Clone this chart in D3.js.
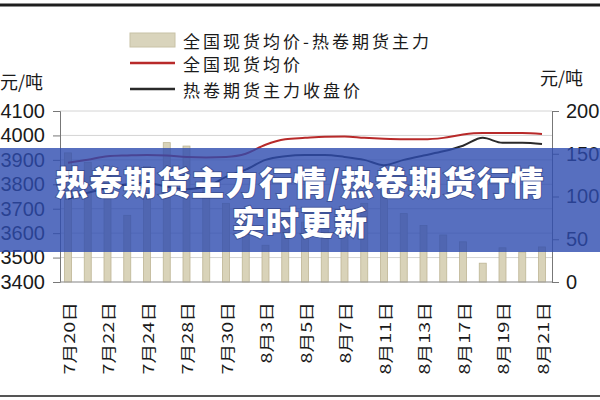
<!DOCTYPE html>
<html><head><meta charset="utf-8">
<script src="https://cdn.jsdelivr.net/npm/d3@7"></script>
<style>
body{margin:0;background:#fff;}
svg{display:block;font-family:"Liberation Sans","Noto Sans CJK SC",sans-serif;}
</style></head>
<body><svg id="c" width="600" height="400"></svg>
<script>
const dates = ["7月20日","7月21日","7月22日","7月23日","7月24日","7月27日","7月28日","7月29日","7月30日","7月31日","8月3日","8月4日","8月5日","8月6日","8月7日","8月10日","8月11日","8月12日","8月13日","8月14日","8月17日","8月18日","8月19日","8月20日","8月21日"];
const spread = [151,140,132,78,135,163,159,125,92,80,43,75,70,78,85,92,107,80,66,55,47,22,40,35,41];
const spot = [3888,3900,3915,3918,3920,3918,3912,3910,3912,3925,3962,3984,3990,3995,3996,3990,3986,3984,3984,3990,4004,4010,4010,4010,4006];
const futures = [3740,3765,3785,3800,3805,3790,3780,3790,3830,3860,3900,3915,3920,3920,3912,3900,3878,3900,3918,3935,3958,3990,3970,3970,3965];
const leftTicks = [3400,3500,3600,3700,3800,3900,4000,4100];
const rightTicks = [0,50,100,150,200];
const legendLabels = ["全国现货均价-热卷期货主力","全国现货均价","热卷期货主力收盘价"];
const unitLabel = "元/吨";
const bannerLines = ["热卷期货主力行情/热卷期货行情","实时更新"];

const svg = d3.select("#c");
const x = d3.scalePoint().domain(dates).range([68,542]);
const yL = d3.scaleLinear().domain([3400,4100]).range([282,111]);
const yR = d3.scaleLinear().domain([0,200]).range([282,111]);

// frame lines
svg.append("line").attr("x1",0).attr("x2",600).attr("y1",5).attr("y2",5).attr("stroke","#1e1e1e").attr("stroke-width",3);
svg.append("line").attr("x1",0).attr("x2",600).attr("y1",396).attr("y2",396).attr("stroke","#555").attr("stroke-width",2);

// gridlines
svg.append("g").selectAll("line").data(leftTicks).join("line")
  .attr("x1",60).attr("x2",552).attr("y1",d=>yL(d)).attr("y2",d=>yL(d))
  .attr("stroke","#d4d4d4").attr("stroke-width",1);

// bars
const bw = 7;
svg.append("g").selectAll("rect").data(dates).join("rect")
  .attr("x",d=>x(d)-bw/2).attr("width",bw)
  .attr("y",(d,i)=>yR(spread[i])).attr("height",(d,i)=>yR(0)-yR(spread[i]))
  .attr("fill","#d9d3b9").attr("stroke","#bdb594").attr("stroke-width",0.8);

// lines
const lineL = d3.line().x((d,i)=>x(dates[i])).y(d=>yL(d)).curve(d3.curveMonotoneX);
svg.append("path").datum(spot).attr("d",lineL).attr("fill","none").attr("stroke","#b82a2a").attr("stroke-width",2);
svg.append("path").datum(futures).attr("d",lineL).attr("fill","none").attr("stroke","#2a2a2a").attr("stroke-width",2);

// axes
const axL = svg.append("g").attr("transform","translate(60,0)")
  .call(d3.axisLeft(yL).tickValues(leftTicks).tickFormat(d3.format("d")).tickSize(7).tickPadding(8));
const axR = svg.append("g").attr("transform","translate(552,0)")
  .call(d3.axisRight(yR).tickValues(rightTicks).tickFormat(d3.format("d")).tickSize(7).tickPadding(7));
[axL,axR].forEach(a=>{
  a.select(".domain").attr("stroke","#777");
  a.selectAll(".tick line").attr("stroke","#777");
  a.selectAll("text").attr("font-size",20).attr("fill","#1a1a1a").attr("font-family","Liberation Sans, sans-serif");
});
const axB = svg.append("g").attr("transform","translate(0,282)")
  .call(d3.axisBottom(x).tickValues(dates.filter((d,i)=>i%2===0)).tickSize(0));
axB.select(".domain").attr("stroke","#999").attr("d","M60,0H552");
axB.selectAll("text")
  .attr("font-size",15).attr("fill","#1a1a1a").attr("font-family","Noto Sans CJK SC, sans-serif")
  .attr("text-anchor","end").attr("dominant-baseline","central")
  .attr("y",0).attr("dy",null)
  .attr("transform","translate(0,20) rotate(-90) scale(1.32,1)");

// units
svg.append("text").attr("x",0).attr("y",81).attr("font-size",18).attr("fill","#1a1a1a")
  .attr("font-family","Noto Sans CJK SC, sans-serif").attr("dominant-baseline","central").text(unitLabel);
svg.append("text").attr("x",540).attr("y",77).attr("font-size",18).attr("fill","#1a1a1a")
  .attr("font-family","Noto Sans CJK SC, sans-serif").attr("dominant-baseline","central").text(unitLabel);

// legend
const lg = svg.append("g");
const rowsY = [40,63,89];
lg.append("rect").attr("x",130).attr("y",33).attr("width",45).attr("height",14).attr("fill","#d9d4bc").attr("stroke","#c8c2a6");
lg.append("line").attr("x1",130).attr("x2",175).attr("y1",63).attr("y2",63).attr("stroke","#b82a2a").attr("stroke-width",2.5);
lg.append("line").attr("x1",130).attr("x2",175).attr("y1",89).attr("y2",89).attr("stroke","#2a2a2a").attr("stroke-width",2.5);
lg.selectAll("text").data(legendLabels).join("text")
  .attr("x",183).attr("y",(d,i)=>rowsY[i]).attr("dominant-baseline","central")
  .attr("font-size",17).attr("letter-spacing",3).attr("fill","#1a1a1a")
  .attr("font-family","Noto Sans CJK SC, sans-serif").text(d=>d);

// banner overlay
svg.append("rect").attr("x",0).attr("y",148).attr("width",600).attr("height",104)
  .attr("fill","rgb(45,75,175)").attr("fill-opacity",0.8);
svg.append("g").selectAll("text").data(bannerLines).join("text")
  .attr("x",300).attr("y",(d,i)=>[181,221][i]).attr("text-anchor","middle").attr("dominant-baseline","central")
  .attr("font-size",33).attr("font-weight",900).attr("fill","#fff").attr("letter-spacing",1)
  .attr("font-family","Noto Sans CJK SC, sans-serif")
  .style("paint-order","stroke").attr("stroke","rgba(20,30,80,0.35)").attr("stroke-width",2)
  .text(d=>d);
</script></body></html>
